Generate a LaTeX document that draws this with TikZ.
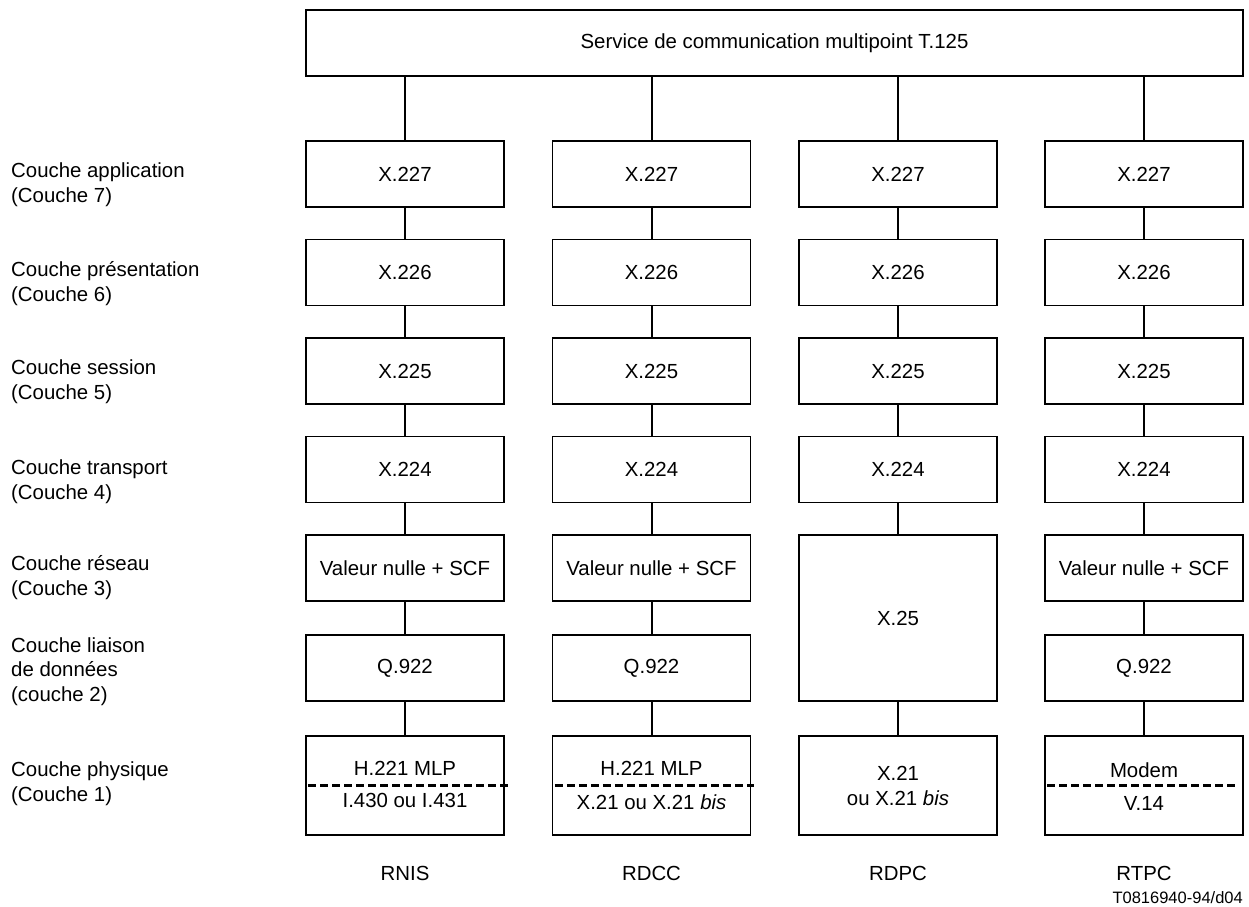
\documentclass[tikz,border=0pt]{standalone}
\usepackage{fontspec}
\setmainfont{Liberation Sans}
\begin{document}
\begin{tikzpicture}[x=1pt,y=-1pt,
  lay/.style={draw, line width=1.4pt, minimum width=198pt, minimum height=66pt,
              inner sep=0pt, font=\fontsize{20.4}{24}\selectfont},
  link/.style={line width=2pt},
  sep/.style={line width=3pt, dash pattern=on 8pt off 4pt},
  txt/.style={inner sep=0pt, font=\fontsize{20.4}{24.5}\selectfont},
  small/.style={inner sep=0pt, font=\fontsize{16.5}{20}\selectfont},
]
\useasboundingbox (0,0) rectangle (1249,906);

% service box on top
\node[lay, minimum width=937pt] (top) at (774.5,43) {Service de communication multipoint T.125};

% layer labels on the left (anchored at the baseline of their last line)
\node[txt, anchor=base west, align=left] (L7) at (11,202) {Couche application\\(Couche 7)};
\node[txt, anchor=base west, align=left] (L6) at (11,301) {Couche présentation\\(Couche 6)};
\node[txt, anchor=base west, align=left] (L5) at (11,399) {Couche session\\(Couche 5)};
\node[txt, anchor=base west, align=left] (L4) at (11,499) {Couche transport\\(Couche 4)};
\node[txt, anchor=base west, align=left] (L3) at (11,595) {Couche réseau\\(Couche 3)};
\node[txt, anchor=base west, align=left] (L2) at (11,701) {Couche liaison\\de données\\(couche 2)};
\node[txt, anchor=base west, align=left] (L1) at (11,801) {Couche physique\\(Couche 1)};

% upper layers, identical in all four stacks
\foreach \c/\x in {1/405,2/651.5,3/898,4/1144}{
  \node[lay] (a\c) at (\x,174)   {X.227};
  \node[lay] (p\c) at (\x,272.5) {X.226};
  \node[lay] (s\c) at (\x,371)   {X.225};
  \node[lay] (t\c) at (\x,469.5) {X.224};
  \node[lay, minimum height=99pt] (ph\c) at (\x,785.5) {};
  \draw[link] (top.south -| a\c.north) -- (a\c.north);
  \draw[link] (a\c) -- (p\c);
  \draw[link] (p\c) -- (s\c);
  \draw[link] (s\c) -- (t\c);
}

% network and data link layers
\foreach \c/\x in {1/405,2/651.5,4/1144}{
  \node[lay] (n\c) at (\x,568) {Valeur nulle + SCF};
  \node[lay] (l\c) at (\x,668) {Q.922};
  \draw[link] (t\c) -- (n\c);
  \draw[link] (n\c) -- (l\c);
  \draw[link] (l\c) -- (ph\c);
}
\node[lay, minimum height=166pt] (x25) at (898,618) {X.25};
\draw[link] (t3) -- (x25);
\draw[link] (x25) -- (ph3);

% physical layer contents
\node[txt, anchor=base] (h1) at (405,775.5) {H.221 MLP};
\node[txt, anchor=base] (i1) at (405,807.5) {I.430 ou I.431};
\draw[sep] ([xshift=3pt]ph1.west) -- ([xshift=3pt]ph1.east);

\node[txt, anchor=base] (h2) at (651.5,775.5) {H.221 MLP};
\node[txt, anchor=base] (i2) at (651.5,809) {X.21 ou X.21 \textit{bis}};
\draw[sep] ([xshift=3pt]ph2.west) -- ([xshift=3pt]ph2.east);

\node[txt, anchor=base, align=center] (i3) at (898,805) {X.21\\ou X.21 \textit{bis}};

\node[txt, anchor=base] (h4) at (1144,777) {Modem};
\node[txt, anchor=base] (i4) at (1144,810) {V.14};
\draw[sep] ([xshift=3pt]ph4.west) -- ([xshift=-6pt]ph4.east);

% network names
\node[txt, anchor=base] (rnis) at (405,880) {RNIS};
\node[txt, anchor=base] (rdcc) at (651.5,880) {RDCC};
\node[txt, anchor=base] (rdpc) at (898,880) {RDPC};
\node[txt, anchor=base] (rtpc) at (1144,880) {RTPC};

\node[small, anchor=base east] (ref) at (1243,903) {T0816940-94/d04};
\end{tikzpicture}
\end{document}
